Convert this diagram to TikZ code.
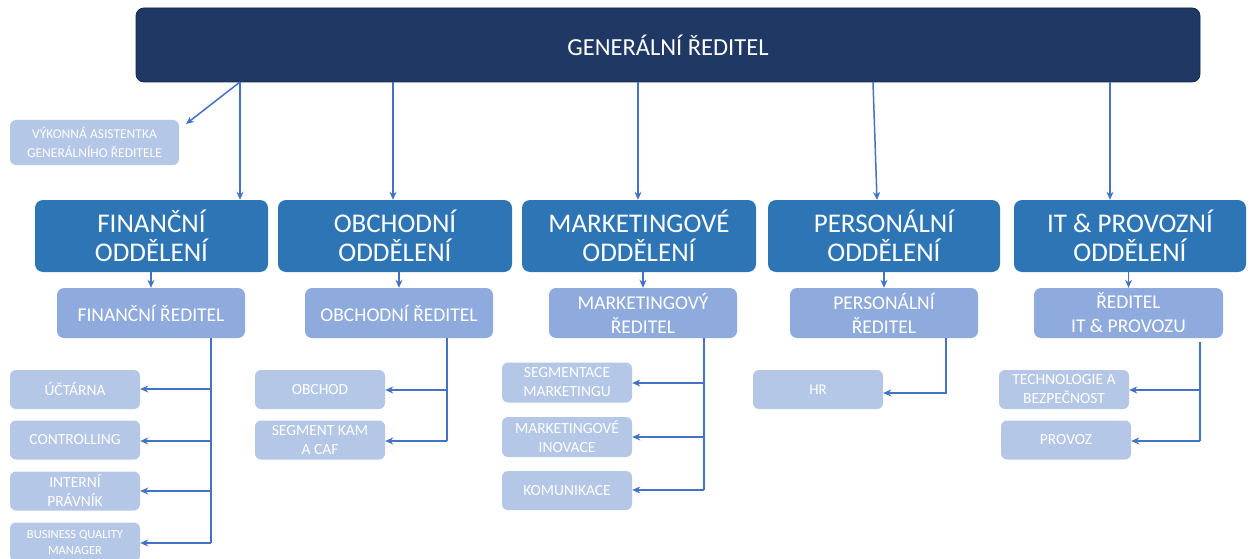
\documentclass[tikz,border=0pt]{standalone}
\usepackage{fontspec}
\setmainfont{Carlito}
\usetikzlibrary{arrows.meta,calc}
\definecolor{navy}{HTML}{203864}
\definecolor{deptc}{HTML}{2E75B6}
\definecolor{dirc}{HTML}{8FAADC}
\definecolor{subc}{HTML}{B4C7E7}
\definecolor{linec}{HTML}{4472C4}
\tikzset{
  box/.style={rectangle, inner sep=0pt, text=white, align=center},
  topbox/.style={box, fill=navy, draw=navy!70!black, line width=0.8pt, rounded corners=8pt, font=\fontsize{24.5}{28}\selectfont},
  deptbox/.style={box, fill=deptc, rounded corners=8pt, font=\fontsize{27}{29}\selectfont},
  dirbox/.style={box, fill=dirc, rounded corners=7pt, font=\fontsize{19.5}{24}\selectfont},
  subbox/.style={box, fill=subc, rounded corners=6pt, font=\fontsize{15.5}{19}\selectfont},
  arr/.style={draw=linec, line width=1.5pt, -{Stealth[length=8pt,width=7pt]}},
  ln/.style={draw=linec, line width=1.5pt},
}
\begin{document}
\begin{tikzpicture}[x=1pt,y=-1pt]
\useasboundingbox (0,0) rectangle (1250,559);
% top
\node[topbox, minimum width=1064, minimum height=74] (gen) at (668,45) {GENERÁLNÍ ŘEDITEL};
\node[subbox, minimum width=169, minimum height=45, font=\fontsize{13.5}{19}\selectfont] (asis) at (94.5,142.5) {VÝKONNÁ ASISTENTKA\\GENERÁLNÍHO ŘEDITELE};
% departments
\node[deptbox, minimum width=233, minimum height=72] (dfin) at (151.5,236) {FINANČNÍ\\ODDĚLENÍ};
\node[deptbox, minimum width=234, minimum height=72] (dobc) at (395,236) {OBCHODNÍ\\ODDĚLENÍ};
\node[deptbox, minimum width=234, minimum height=72] (dmkt) at (639,236) {MARKETINGOVÉ\\ODDĚLENÍ};
\node[deptbox, minimum width=232, minimum height=72] (dper) at (884,236) {PERSONÁLNÍ\\ODDĚLENÍ};
\node[deptbox, minimum width=232, minimum height=72] (dit) at (1130,236) {IT \& PROVOZNÍ\\ODDĚLENÍ};
% directors
\node[dirbox, minimum width=188, minimum height=50] (rfin) at (151,313) {FINANČNÍ ŘEDITEL};
\node[dirbox, minimum width=188, minimum height=50] (robc) at (399,313) {OBCHODNÍ ŘEDITEL};
\node[dirbox, minimum width=188, minimum height=50] (rmkt) at (643,313) {MARKETINGOVÝ\\ŘEDITEL};
\node[dirbox, minimum width=188, minimum height=50] (rper) at (884,313) {PERSONÁLNÍ\\ŘEDITEL};
\node[dirbox, minimum width=189, minimum height=50] (rit) at (1128.5,313) {ŘEDITEL\\IT \& PROVOZU};
% finance subs
\node[subbox, minimum width=130, minimum height=39] (ucet) at (75,389.5) {ÚČTÁRNA};
\node[subbox, minimum width=130, minimum height=39] (ctrl) at (75,440) {CONTROLLING};
\node[subbox, minimum width=130, minimum height=39] (prav) at (75,491) {INTERNÍ\\PRÁVNÍK};
\node[subbox, minimum width=130, minimum height=39, font=\fontsize{12.5}{16}\selectfont] (bqm) at (75,542) {BUSINESS QUALITY\\MANAGER};
% obchod subs
\node[subbox, minimum width=130, minimum height=39] (obch) at (320,389.5) {OBCHOD};
\node[subbox, minimum width=130, minimum height=39] (skam) at (320,440) {SEGMENT KAM\\A CAF};
% marketing subs
\node[subbox, minimum width=130, minimum height=40, font=\fontsize{15.5}{19}\selectfont] (segm) at (567,382.5) {SEGMENTACE\\MARKETINGU};
\node[subbox, minimum width=130, minimum height=40, font=\fontsize{15.5}{19}\selectfont] (inov) at (567,437) {MARKETINGOVÉ\\INOVACE};
\node[subbox, minimum width=130, minimum height=39, font=\fontsize{15.5}{19}\selectfont] (komu) at (567,490.5) {KOMUNIKACE};
% HR
\node[subbox, minimum width=130, minimum height=39, font=\fontsize{15}{19}\selectfont] (hr) at (818,389.5) {HR};
% IT subs
\node[subbox, minimum width=130, minimum height=39, font=\fontsize{15.5}{19}\selectfont] (tech) at (1064,389.5) {TECHNOLOGIE A\\BEZPEČNOST};
\node[subbox, minimum width=130, minimum height=39, font=\fontsize{15.5}{19}\selectfont] (prov) at (1066,440) {PROVOZ};
% connectors from top
\coordinate (g1) at (240,82);
\coordinate (g2) at (393,82);
\coordinate (g3) at (638,82);
\coordinate (g4) at (873,82);
\coordinate (g5) at (1110,82);
\draw[arr] (g1) -- (186,124);
\draw[arr] (g1) -- (g1 |- dfin.north);
\draw[arr] (g2) -- (g2 |- dobc.north);
\draw[arr] (g3) -- (g3 |- dmkt.north);
\draw[arr] (g4) -- (877,200);
\draw[arr] (g5) -- (g5 |- dit.north);
% dept -> director
\draw[arr] (dfin.south -| rfin.north) -- (rfin.north);
\draw[arr] (dobc.south -| robc.north) -- (robc.north);
\draw[arr] (dmkt.south -| rmkt.north) -- (rmkt.north);
\draw[arr] (dper.south -| rper.north) -- (rper.north);
\draw[arr] (dit.south -| rit.north) -- (rit.north);
% finance tree
\coordinate (fv) at (211,338);
\draw[ln] (fv) -- (211,543);
\draw[arr] (211,389) -- (ucet.east |- 0,389);
\draw[arr] (211,441) -- (ctrl.east |- 0,441);
\draw[arr] (211,491) -- (prav.east |- 0,491);
\draw[arr] (211,543) -- (bqm.east |- 0,543);
% obchod tree
\draw[ln] (447,338) -- (447,441);
\draw[arr] (447,390) -- (obch.east |- 0,390);
\draw[arr] (447,441) -- (skam.east |- 0,441);
% marketing tree
\draw[ln] (704,338) -- (704,490);
\draw[arr] (704,383) -- (segm.east |- 0,383);
\draw[arr] (704,437) -- (inov.east |- 0,437);
\draw[arr] (704,490) -- (komu.east |- 0,490);
% HR
\draw[arr] (946,338) -- (946,393) -- (hr.east |- 0,393);
% IT tree
\draw[ln] (1200,342) -- (1200,441);
\draw[arr] (1200,390) -- (tech.east |- 0,390);
\draw[arr] (1200,441) -- (prov.east |- 0,441);
\end{tikzpicture}
\end{document}
